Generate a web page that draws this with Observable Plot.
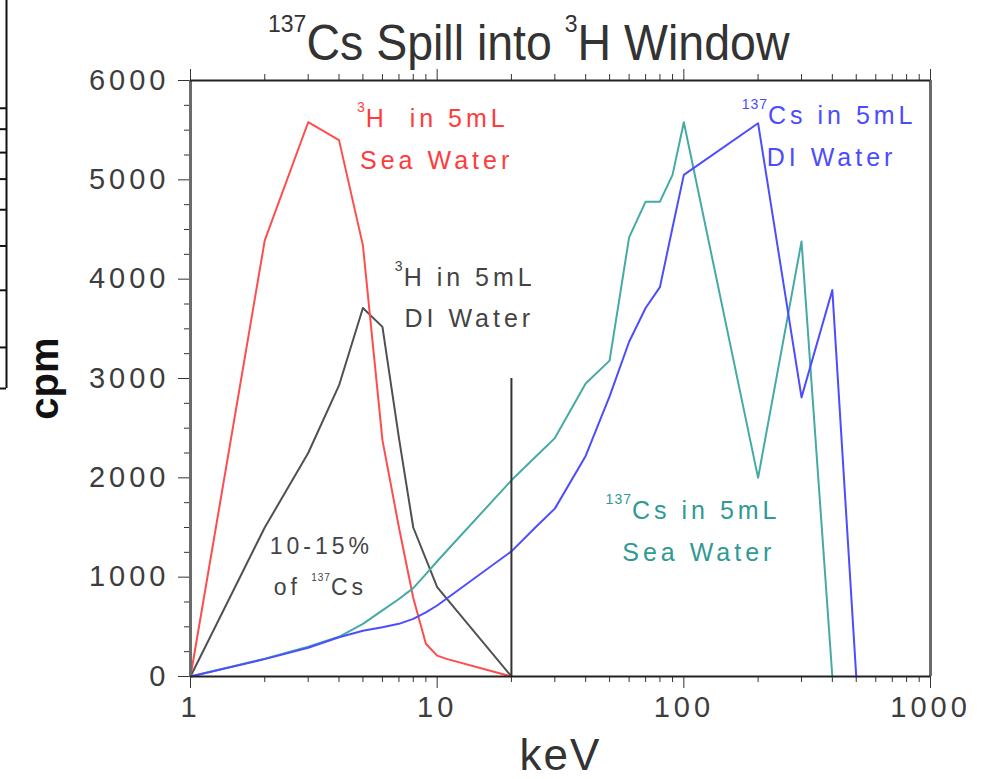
<!DOCTYPE html>
<html>
<head>
<meta charset="utf-8">
<script src="https://cdn.jsdelivr.net/npm/d3@7"></script>
<script src="https://cdn.jsdelivr.net/npm/@observablehq/plot@0.6"></script>
<style>
  body { margin: 0; background: #fff; font-family: "Liberation Sans", Arial, sans-serif; }
  #wrap { position: relative; width: 984px; height: 779px; overflow: hidden; background: #fff; }
  #title { position: relative; height: 70px; }
  #title .t { position: absolute; left: 268px; top: 19px; font-size: 46.5px; line-height: 46px; color: #333;
              white-space: nowrap; transform: scaleY(1.06); transform-origin: 0 0; }
  #title .sup { font-size: 23px; line-height: 0; vertical-align: 27px; }
  #frag { position: absolute; left: 0; top: 0; }
  #main svg text { letter-spacing: 4px; }
</style>
</head>
<body>
<div id="wrap">
  <div id="title"><span class="t"><span class="sup">137</span>Cs Spill into <span class="sup">3</span>H Window</span></div>
  <div id="main"></div>
  <div id="frag"></div>
</div>
<script>
// ---------- tick values ----------
const xMajor = [1, 10, 100, 1000];
const xMinor = [2, 3, 4, 5, 6, 7, 8, 9, 20, 30, 40, 50, 60, 70, 80, 90, 200, 300, 400, 500, 600, 700, 800, 900];
const yMajor = [0, 1000, 2000, 3000, 4000, 5000, 6000];
const yMinor = [250, 500, 750, 1250, 1500, 1750, 2250, 2500, 2750, 3250, 3500, 3750, 4250, 4500, 4750, 5250, 5500, 5750];

// ---------- series ----------
// 3H in 5 mL sea water
const h3SeaKeV = [1, 2, 3, 4, 5, 6, 7, 8, 9, 10, 11, 20];
const h3SeaCpm = [0, 4390, 5580, 5400, 4340, 2380, 1500, 790, 330, 210, 175, 0];
// 3H in 5 mL DI water
const h3DiKeV = [1, 2, 3, 4, 5, 6, 7, 8, 10, 20];
const h3DiCpm = [0, 1500, 2250, 2930, 3710, 3520, 2400, 1500, 900, 0];
// 137Cs in 5 mL sea water
const csSeaKeV = [1, 2, 3, 4, 5, 6, 7, 8, 9, 10, 20, 25, 30, 40, 50, 60, 70, 80, 90, 100, 200, 300, 400];
const csSeaCpm = [0, 180, 300, 400, 530, 665, 780, 890, 1030, 1160, 1975, 2210, 2400, 2950, 3180, 4420, 4780, 4780, 5050, 5580, 2000, 4380, 0];
// 137Cs in 5 mL DI water
const csDiKeV = [1, 2, 3, 4, 5, 6, 7, 8, 9, 10, 20, 25, 30, 40, 50, 60, 70, 80, 90, 100, 200, 300, 400, 500];
const csDiCpm = [0, 175, 290, 395, 460, 495, 530, 580, 645, 715, 1260, 1500, 1690, 2220, 2820, 3370, 3710, 3920, 4520, 5050, 5570, 2810, 3890, 0];

// 3H window upper edge
const windowKeV = [20];
const windowTopCpm = [3000];

// ---------- annotations ----------
const labelText   = ["³H  in 5mL", "Sea Water", "³H in 5mL", "DI Water", "¹³⁷Cs in 5mL", "DI Water", "¹³⁷Cs in 5mL", "Sea Water"];
const labelSeries = ["h3sea", "h3sea", "h3di", "h3di", "csdi", "csdi", "cssea", "cssea"];
const labelKeV    = [9.6, 9.95, 13.0, 13.5, 388, 397, 109, 115];
const labelCpm    = [5608, 5185, 4007, 3594, 5638, 5215, 1671, 1248];

const noteText = ["10-15%", "of ¹³⁷Cs"];
const noteKeV  = [3.39, 3.36];
const noteCpm  = [1309, 896];

// neighbouring (cut-off) chart's right axis ticks on the left edge
const fragTicks = [2.44, 3, 4, 5, 6, 7, 8, 9, 10];
const fragDomain = [2.44, 17.2];

// ---------- styles ----------
const colors = { h3sea: "#ff4d4d", h3di: "#505050", cssea: "#45aaa5", csdi: "#4d4dff" };
const textColors = { h3sea: "#ff3c3c", h3di: "#444444", cssea: "#2f9a95", csdi: "#4b4bff", note: "#444444" };

const rows = (k, c) => k.map((x, i) => ({ x, y: c[i] }));
const labels = labelText.map((t, i) => ({ t, s: labelSeries[i], x: labelKeV[i], y: labelCpm[i] }));
const notes = noteText.map((t, i) => ({ t, x: noteKeV[i], y: noteCpm[i] }));

const chart = Plot.plot({
  width: 984,
  height: 709,
  marginLeft: 190,
  marginRight: 54,
  marginTop: 10,
  marginBottom: 103,
  style: { fontFamily: "'Liberation Sans', Arial, sans-serif", background: "white", overflow: "visible" },
  x: { type: "log", domain: [1, 1000], label: null },
  y: { domain: [0, 6000], label: null },
  marks: [
    Plot.axisY(yMajor, { anchor: "left", tickSize: 12, tickPadding: 9, fontSize: 29, stroke: "#333", fill: "#3d3d3d", tickFormat: d => String(d), label: null }),
    Plot.axisY(yMinor, { anchor: "left", tickSize: 6, stroke: "#333", fill: "none", label: null }),
    Plot.axisX(xMajor, { anchor: "bottom", tickSize: 12, tickPadding: 8, fontSize: 29, stroke: "#333", fill: "#3d3d3d", tickFormat: d => String(d), label: null }),
    Plot.axisX(xMinor, { anchor: "bottom", tickSize: 6, stroke: "#333", fill: "none", label: null }),
    Plot.axisX(xMajor, { anchor: "top", tickSize: 12, stroke: "#333", fill: "none", label: null }),
    Plot.axisX(xMinor, { anchor: "top", tickSize: 7, stroke: "#333", fill: "none", label: null }),

    Plot.line(rows(h3DiKeV, h3DiCpm), { x: "x", y: "y", stroke: colors.h3di, strokeWidth: 2 }),
    Plot.line(rows(h3SeaKeV, h3SeaCpm), { x: "x", y: "y", stroke: colors.h3sea, strokeWidth: 2 }),
    Plot.line(rows(csSeaKeV, csSeaCpm), { x: "x", y: "y", stroke: colors.cssea, strokeWidth: 2 }),
    Plot.line(rows(csDiKeV, csDiCpm), { x: "x", y: "y", stroke: colors.csdi, strokeWidth: 2 }),

    Plot.ruleX(windowKeV, { x: d => d, y1: 0, y2: windowTopCpm[0], stroke: "#333", strokeWidth: 2 }),

    Plot.ruleX([1], { stroke: "#6b6b6b", strokeWidth: 3 }),
    Plot.ruleX([1000], { stroke: "#6b6b6b", strokeWidth: 3 }),
    Plot.ruleY([0], { stroke: "#222", strokeWidth: 2 }),
    Plot.ruleY([6000], { stroke: "#222", strokeWidth: 2 }),

    Plot.text(labels, { x: "x", y: "y", text: "t", fill: d => textColors[d.s], fontSize: 25 }),
    Plot.text(notes, { x: "x", y: "y", text: "t", fill: textColors.note, fontSize: 23 }),

    Plot.text(["cpm"], { frameAnchor: "left", textAnchor: "middle", lineAnchor: "middle", dx: -145, rotate: -90, fontSize: 40, fontWeight: "bold", fill: "#111" }),
    Plot.text(["keV"], { frameAnchor: "bottom", textAnchor: "middle", lineAnchor: "middle", dy: 79, fontSize: 44, fill: "#333" })
  ]
});
document.getElementById("main").appendChild(chart);

// render unicode superscript digits as real smaller, raised digits
const SVGNS = "http://www.w3.org/2000/svg";
const SUP_RE = /[⁰¹²³⁴⁵⁶⁷⁸⁹]/;
const supMap = { "⁰": "0", "¹": "1", "²": "2", "³": "3", "⁴": "4", "⁵": "5", "⁶": "6", "⁷": "7", "⁸": "8", "⁹": "9" };
function supify(textEl, size, shift) {
  const walker = document.createTreeWalker(textEl, NodeFilter.SHOW_TEXT);
  const nodes = [];
  while (walker.nextNode()) nodes.push(walker.currentNode);
  for (const n of nodes) {
    const parts = n.textContent.split(/([⁰¹²³⁴⁵⁶⁷⁸⁹]+)/);
    if (parts.length === 1) continue;
    const frag = document.createDocumentFragment();
    let raised = false;
    for (const p of parts) {
      if (!p) continue;
      const ts = document.createElementNS(SVGNS, "tspan");
      if (/^[⁰¹²³⁴⁵⁶⁷⁸⁹]+$/.test(p)) {
        ts.setAttribute("font-size", size);
        ts.setAttribute("dy", String(-shift));
        ts.style.letterSpacing = "1px";
        ts.textContent = [...p].map(c => supMap[c]).join("");
        raised = true;
      } else {
        if (raised) ts.setAttribute("dy", String(shift));
        raised = false;
        ts.textContent = p;
      }
      frag.appendChild(ts);
    }
    n.parentNode.replaceChild(frag, n);
  }
}
chart.querySelectorAll("text").forEach(t => {
  const txt = t.textContent;
  if (txt === "cpm") t.style.letterSpacing = "0px";
  if (txt === "keV") t.style.letterSpacing = "2px";
  if (!SUP_RE.test(txt)) return;
  const g = t.closest("g[font-size]");
  const fs = g ? +g.getAttribute("font-size") : 25;
  if (fs < 24) supify(t, 10, 14);
  else supify(t, 14, 15);
});

// the cut-off neighbouring chart at the left edge
const fragPlot = Plot.plot({
  width: 8,
  height: 389,
  marginLeft: 0,
  marginRight: 2,
  marginTop: 0,
  marginBottom: 1,
  style: { background: "transparent", overflow: "visible" },
  x: { domain: [0, 1], axis: null },
  y: { type: "log", domain: fragDomain, axis: null },
  marks: [
    Plot.tickY(fragTicks, { y: d => d, stroke: "#111", strokeWidth: 2 }),
    Plot.ruleX([1], { stroke: "#111", strokeWidth: 2 })
  ]
});
document.getElementById("frag").appendChild(fragPlot);
</script>
</body>
</html>
